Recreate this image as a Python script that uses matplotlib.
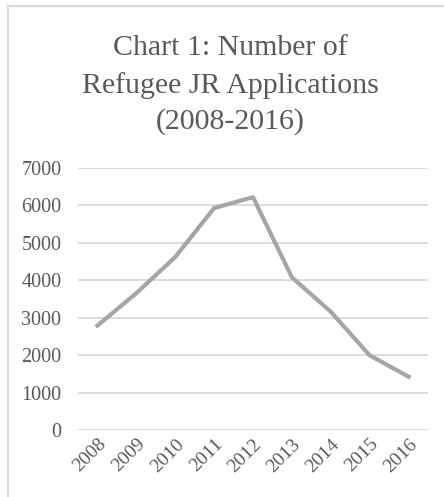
import matplotlib.pyplot as plt
from matplotlib.lines import Line2D
import matplotlib.transforms as mtransforms

# data
years = ["2008", "2009", "2010", "2011", "2012", "2013", "2014", "2015", "2016"]
applications = [2790, 3655, 4620, 5930, 6220, 4080, 3160, 1995, 1425]
y_ticks = [0, 1000, 2000, 3000, 4000, 5000, 6000, 7000]

TEXT = "#595959"
GRID = "#d9d9d9"
LINE = "#a5a5a5"
SERIF = ["Liberation Serif", "DejaVu Serif"]

W, H = 444, 497
fig = plt.figure(figsize=(W / 100, H / 100), dpi=100)
ax = fig.add_axes([78 / W, 1 - 430 / H, 350 / W, 262 / H])

x = range(len(years))
ax.plot(x, applications, color=LINE, linewidth=3.0, solid_joinstyle="round")

ax.set_xlim(-0.5, len(years) - 0.5)
ax.set_ylim(0, 7000)
ax.set_yticks(y_ticks)
ax.set_yticklabels([str(v) for v in y_ticks], family=SERIF, fontsize=14.5, color=TEXT)
ax.set_xticks(list(x))
ax.set_xticklabels(years, family=SERIF, fontsize=14, color=TEXT,
                   rotation=45, ha="right", va="top", rotation_mode="anchor")
offset = mtransforms.ScaledTranslation(3 / 100, -1 / 100, fig.dpi_scale_trans)
for lbl in ax.get_xticklabels():
    lbl.set_transform(lbl.get_transform() + offset)

ax.grid(axis="y", color=GRID, linewidth=1.3)
ax.set_axisbelow(True)
ax.tick_params(length=0)
ax.tick_params(axis="y", pad=12)
ax.tick_params(axis="x", pad=4)
for s in ax.spines.values():
    s.set_visible(False)

# title, one line at a time
title_lines = ["Chart 1: Number of", "Refugee JR Applications", "(2008-2016)"]
for line, base in zip(title_lines, [55, 93, 129]):
    fig.text(230 / W, 1 - base / H, line, ha="center", va="baseline",
             family=SERIF, fontsize=21.5, color=TEXT)

# chart frame (only left and top visible in the crop)
fig.add_artist(Line2D([8 / W, 8 / W], [0, 1 - 6 / H], transform=fig.transFigure,
                      color=GRID, linewidth=1.5))
fig.add_artist(Line2D([8 / W, 1], [1 - 6 / H, 1 - 6 / H], transform=fig.transFigure,
                      color=GRID, linewidth=1.5))

fig.savefig("out.png", dpi=100, facecolor="white")
